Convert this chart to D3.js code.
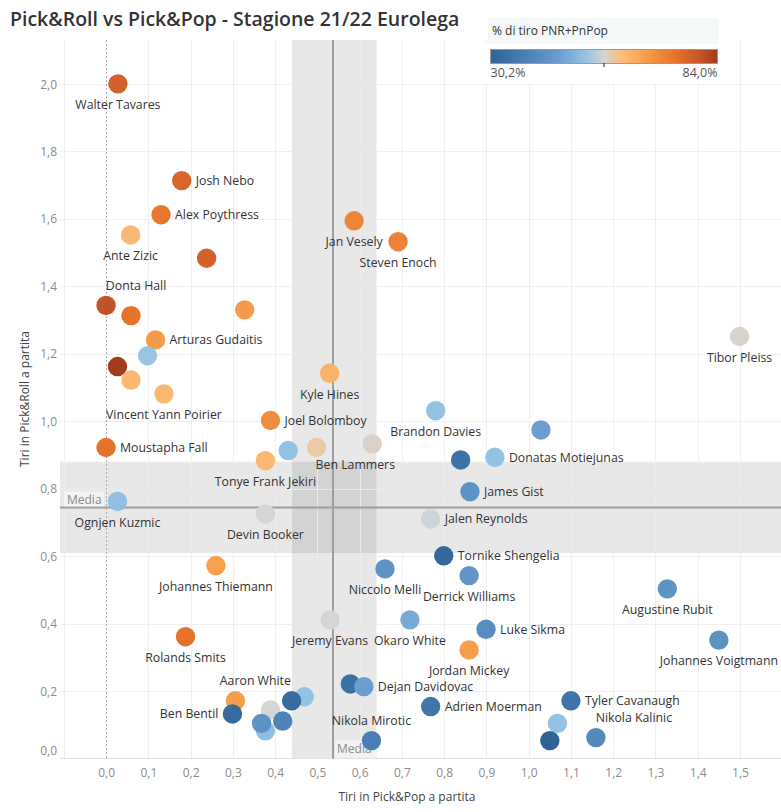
<!DOCTYPE html>
<html><head><meta charset="utf-8">
<script src="https://cdn.jsdelivr.net/npm/d3@7"></script>
<style>body{margin:0;background:#fff;} svg{display:block;font-family:"Open Sans",sans-serif;}</style>
</head><body><svg id="c" width="781" height="812"></svg>
<script>
// ---------------- DATA ----------------
const players = ["Walter Tavares","Josh Nebo","Alex Poythress","Ante Zizic","","Jan Vesely","Steven Enoch","Donta Hall","","","Arturas Gudaitis","","","","Vincent Yann Poirier","Kyle Hines","Brandon Davies","Joel Bolomboy","","Moustapha Fall","","","Ben Lammers","Tonye Frank Jekiri","","Donatas Motiejunas","Tibor Pleiss","Ognjen Kuzmic","James Gist","Devin Booker","Jalen Reynolds","Tornike Shengelia","Johannes Thiemann","Niccolo Melli","Derrick Williams","Augustine Rubit","Jeremy Evans","Okaro White","Luke Sikma","Johannes Voigtmann","Rolands Smits","Jordan Mickey","Aaron White","Ben Bentil","","","","","","","","Dejan Davidovac","Nikola Mirotic","Adrien Moerman","Tyler Cavanaugh","","","Nikola Kalinic"];
// Tiri in Pick&Pop a partita (x)
const pnp = [0.028,0.179,0.130,0.058,0.238,0.587,0.691,0.000,0.059,0.328,0.117,0.098,0.027,0.059,0.137,0.529,0.780,0.389,1.029,0.000,0.431,0.498,0.630,0.377,0.839,0.920,1.499,0.027,0.861,0.377,0.768,0.799,0.260,0.660,0.859,1.328,0.530,0.719,0.899,1.450,0.188,0.859,0.306,0.299,0.377,0.389,0.368,0.418,0.469,0.439,0.578,0.610,0.628,0.768,1.100,1.068,1.050,1.159];
// Tiri in Pick&Roll a partita (y)
const pnr = [2.000,1.713,1.612,1.552,1.483,1.594,1.532,1.343,1.313,1.330,1.241,1.194,1.162,1.122,1.081,1.142,1.031,1.002,0.974,0.922,0.913,0.922,0.933,0.883,0.885,0.893,1.251,0.762,0.791,0.725,0.710,0.601,0.572,0.562,0.542,0.503,0.411,0.411,0.383,0.351,0.361,0.322,0.171,0.132,0.082,0.144,0.104,0.111,0.183,0.171,0.221,0.213,0.053,0.154,0.171,0.104,0.053,0.062];
// % di tiro PNR+PnPop
const pct = [77.5,76.5,73.2,62.5,77.5,71.0,71.6,80.2,73.8,67.9,67.9,53.3,84.0,62.5,62.5,63.5,52.8,70.0,46.3,73.8,52.8,59.3,57.6,62.5,34.5,52.8,57.5,52.3,43.1,57.1,56.6,31.8,66.8,43.6,44.2,43.1,57.1,48.5,42.0,43.1,73.8,67.3,67.3,32.4,52.3,57.1,43.1,39.3,52.8,32.9,34.0,46.3,38.3,35.6,35.0,52.8,30.2,41.0];

const xTicks = [0,0.1,0.2,0.3,0.4,0.5,0.6,0.7,0.8,0.9,1.0,1.1,1.2,1.3,1.4,1.5];
const xGrid = [-0.1,0,0.1,0.2,0.3,0.4,0.5,0.6,0.7,0.8,0.9,1.0,1.1,1.2,1.3,1.4,1.5,1.6];
const yTicks = [0,0.2,0.4,0.6,0.8,1.0,1.2,1.4,1.6,1.8,2.0];

const mediaX = 0.537, bandX = [0.44, 0.64];
const mediaY = 0.744, bandY = [0.609, 0.880];
const pctMin = 30.2, pctMax = 84.0;

const title = "Pick&Roll vs Pick&Pop - Stagione 21/22 Eurolega";
const xTitle = "Tiri in Pick&Pop a partita";
const yTitle = "Tiri in Pick&Roll a partita";
const legendTitle = "% di tiro PNR+PnPop";

// ---------------- LABEL LAYOUT (placement keywords + horizontal nudges) ----------------
const labelPos = ['b','r','r','b','','b','b','t','','','r','','','','b','b','b','r','','r','','','b','b','','r','b','b','r','b','r','r','b','b','b','b','b','b','r','b','b','b','t','l','','','','','','','','r','t','r','r','','','t'];
const labelNudge = {7: 30, 22: -17, 42: 20, 57: 38};

// ---------------- CHART ----------------
const svg = d3.select('#c');
const plot = {l: 60, r: 781, t: 40, b: 758.5};
const x = d3.scaleLinear().domain([-0.109, 1.597]).range([plot.l, plot.r]);
const y = d3.scaleLinear().domain([0, 2.13]).range([plot.b, plot.t]);
const fmt = v => d3.format('.1f')(v).replace('.', ',');

const colorStops = [0,0.15,0.3,0.42,0.5,0.58,0.7,0.82,0.92,1];
const colorRange = ['#2f6396','#4a7fb5','#6a9ecf','#93c2e3','#d5d5d5','#fdbd7a','#f59a48','#e4702a','#c6562a','#a23a1c'];
const color = d3.scaleLinear()
  .domain(colorStops.map(f => pctMin + f*(pctMax-pctMin)))
  .range(colorRange).interpolate(d3.interpolateRgb);

// title
svg.append('text').attr('x', 10).attr('y', 26).attr('font-size', 19.5).attr('font-weight', 600)
  .attr('fill', '#333').text(title);

// bands
const gBand = svg.append('g');
gBand.append('rect').attr('x', plot.l).attr('width', plot.r-plot.l)
  .attr('y', y(bandY[1])).attr('height', y(bandY[0]) - y(bandY[1]))
  .attr('fill', '#000').attr('fill-opacity', 0.09);
gBand.append('rect').attr('x', x(bandX[0])).attr('width', x(bandX[1]) - x(bandX[0]))
  .attr('y', plot.t).attr('height', plot.b - plot.t)
  .attr('fill', '#000').attr('fill-opacity', 0.09);

// grid
const gGrid = svg.append('g').attr('stroke', '#ececec').attr('stroke-width', 1).attr('stroke-opacity', 0.85);
gGrid.selectAll('.vx').data(xGrid.filter(v => v !== 0)).join('line')
  .attr('x1', d => Math.round(x(d))+0.5).attr('x2', d => Math.round(x(d))+0.5)
  .attr('y1', plot.t).attr('y2', plot.b);
gGrid.selectAll('.hy').data(yTicks.filter(v => v !== 0)).join('line')
  .attr('y1', d => Math.round(y(d))+0.5).attr('y2', d => Math.round(y(d))+0.5)
  .attr('x1', plot.l).attr('x2', plot.r);
// bottom axis line
svg.append('line').attr('x1', plot.l).attr('x2', plot.r).attr('y1', 758.5).attr('y2', 758.5)
  .attr('stroke', '#e2e2e2');
// zero dotted line
svg.append('line').attr('x1', Math.round(x(0))+0.5).attr('x2', Math.round(x(0))+0.5)
  .attr('y1', plot.t).attr('y2', plot.b).attr('stroke', '#b0b0b0').attr('stroke-dasharray', '2,2');

// media lines
svg.append('line').attr('x1', x(mediaX)).attr('x2', x(mediaX)).attr('y1', plot.t).attr('y2', plot.b)
  .attr('stroke', '#9e9e9e').attr('stroke-width', 2);
svg.append('line').attr('y1', y(mediaY)).attr('y2', y(mediaY)).attr('x1', plot.l).attr('x2', plot.r)
  .attr('stroke', '#9e9e9e').attr('stroke-width', 2);

// media labels
svg.append('rect').attr('x', plot.l+4).attr('y', y(mediaY)-16).attr('width', 40).attr('height', 15)
  .attr('fill', '#fff').attr('fill-opacity', 0.45);
svg.append('text').attr('x', plot.l+7).attr('y', y(mediaY)-8).attr('dy', '0.35em')
  .attr('font-size', 12).attr('fill', '#8a8a8a').text('Media');
svg.append('rect').attr('x', x(mediaX)+2).attr('y', plot.b-18).attr('width', 41).attr('height', 17)
  .attr('fill', '#fff').attr('fill-opacity', 0.45);
svg.append('text').attr('x', x(mediaX)+4).attr('y', plot.b-10).attr('dy', '0.35em')
  .attr('font-size', 12).attr('fill', '#8a8a8a').text('Media');

// axes
const gx = svg.append('g').attr('transform', 'translate(0,773)')
  .call(d3.axisBottom(x).tickValues(xTicks).tickSize(0).tickPadding(0).tickFormat(fmt));
gx.select('.domain').remove();
gx.selectAll('text').attr('dy', '0.35em').attr('font-size', 12).attr('fill', '#8c8c8c')
  .attr('font-family', '"Open Sans",sans-serif');

const gy = svg.append('g').attr('transform', 'translate(57,0)')
  .call(d3.axisLeft(y).tickValues(yTicks).tickSize(0).tickPadding(0).tickFormat(fmt));
gy.select('.domain').remove();
gy.selectAll('text').attr('dy', '0.35em').attr('font-size', 12).attr('fill', '#8c8c8c')
  .attr('font-family', '"Open Sans",sans-serif')
  .attr('y', d => d === 0 ? -8 : 0);

svg.append('text').attr('x', 407).attr('y', 797).attr('dy', '0.35em').attr('text-anchor', 'middle')
  .attr('font-size', 12).attr('fill', '#444').text(xTitle);
svg.append('text').attr('transform', 'translate(25,399) rotate(-90)').attr('dy', '0.35em')
  .attr('text-anchor', 'middle').attr('font-size', 12).attr('fill', '#444').text(yTitle);

// points
const idx = d3.range(players.length);
svg.append('g').selectAll('circle').data(idx).join('circle')
  .attr('cx', i => x(pnp[i])).attr('cy', i => y(pnr[i])).attr('r', 9.7)
  .attr('fill', i => color(pct[i]));

// labels
const gl = svg.append('g').attr('font-size', 12.3).attr('fill', '#333');
idx.filter(i => players[i] && labelPos[i]).forEach(i => {
  const p = labelPos[i];
  let dx = 0, dy = 0, anchor = 'middle';
  if (p === 'b') { dy = 21; }
  else if (p === 't') { dy = -20; }
  else if (p === 'r') { dx = 14; anchor = 'start'; }
  else if (p === 'l') { dx = -14; anchor = 'end'; }
  dx += labelNudge[i] || 0;
  gl.append('text').attr('x', x(pnp[i]) + dx).attr('y', y(pnr[i]) + dy).attr('dy', '0.35em')
    .attr('text-anchor', anchor).text(players[i]);
});

// legend
const lg = svg.append('g');
lg.append('rect').attr('x', 486).attr('y', 44).attr('width', 234).attr('height', 40).attr('fill', '#fff');
lg.append('rect').attr('x', 488).attr('y', 18).attr('width', 231).attr('height', 26).attr('fill', '#f5f8f9');
lg.append('text').attr('x', 492).attr('y', 31).attr('dy', '0.35em').attr('font-size', 12)
  .attr('fill', '#333').text(legendTitle);
const grad = svg.append('defs').append('linearGradient').attr('id', 'lgGrad');
grad.selectAll('stop').data(colorStops).join('stop')
  .attr('offset', f => f).attr('stop-color', (f, k) => colorRange[k]);
const lx = d3.scaleLinear().domain([pctMin, pctMax]).range([490.5, 717.5]);
lg.append('rect').attr('x', lx(pctMin)).attr('y', 49.5).attr('width', lx(pctMax) - lx(pctMin)).attr('height', 14)
  .attr('fill', 'url(#lgGrad)').attr('stroke', '#9a9a9a');
lg.append('line').attr('x1', lx((pctMin+pctMax)/2)).attr('x2', lx((pctMin+pctMax)/2))
  .attr('y1', 63).attr('y2', 67).attr('stroke', '#222');
lg.append('text').attr('x', lx(pctMin)).attr('y', 73).attr('dy', '0.35em').attr('font-size', 12.5)
  .attr('fill', '#555').text(fmt(pctMin) + '%');
lg.append('text').attr('x', lx(pctMax)).attr('y', 73).attr('dy', '0.35em').attr('font-size', 12.5)
  .attr('text-anchor', 'end').attr('fill', '#555').text(fmt(pctMax) + '%');
</script></body></html>
